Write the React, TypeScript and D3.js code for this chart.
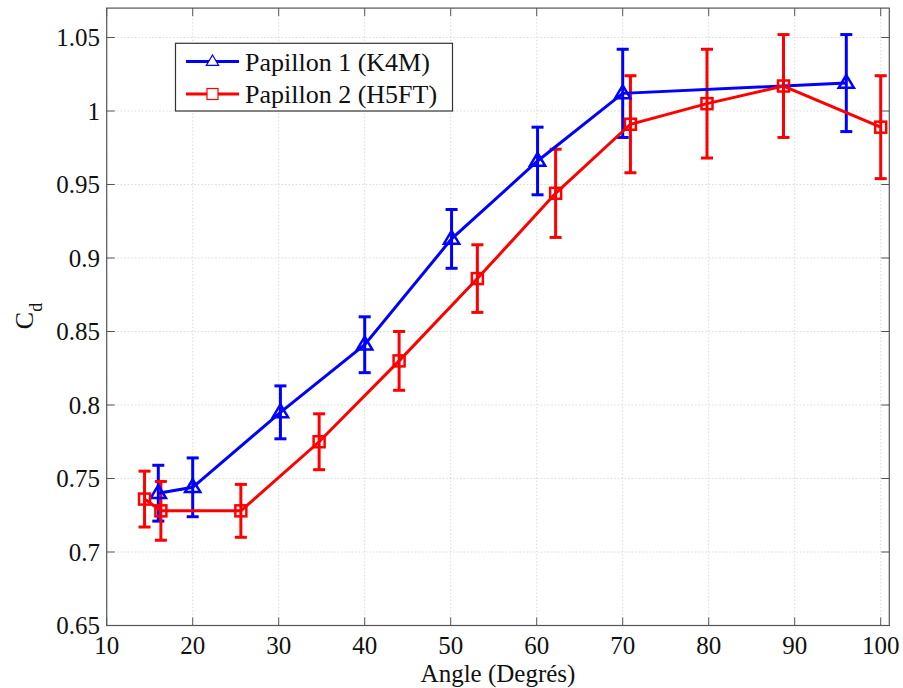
import React from "react";
import * as d3 from "d3";

const blueAngles = [16, 20, 30.2, 40, 50.1, 60.1, 70, 96];
const blueCd = [0.740, 0.744, 0.795, 0.841, 0.913, 0.966, 1.012, 1.019];
const blueErr = [0.019, 0.020, 0.018, 0.019, 0.020, 0.023, 0.030, 0.033];

const redAngles = [14.4, 16.3, 25.6, 34.7, 44, 53.1, 62.2, 70.9, 79.8, 88.7, 100];
const redCd = [0.736, 0.728, 0.728, 0.775, 0.830, 0.886, 0.944, 0.991, 1.005, 1.017, 0.989];
const redErr = [0.019, 0.020, 0.018, 0.019, 0.020, 0.023, 0.030, 0.033, 0.037, 0.035, 0.035];

const xTicks = [10, 20, 30, 40, 50, 60, 70, 80, 90, 100];
const yTicks = [0.65, 0.7, 0.75, 0.8, 0.85, 0.9, 0.95, 1, 1.05];
const seriesNames = ["Papillon 1 (K4M)", "Papillon 2 (H5FT)"];

const W = 903, H = 688;
const L = 106.7, R = 889.3, T = 8.1, B = 625.5;
const FONT = "'Liberation Serif', 'Times New Roman', serif";
const BLUE = "#0000ff";
const RED = "#ff0000";
const AX = "#555";

export default function App() {
  const x = d3.scaleLinear().domain([10, 101]).range([L, R]);
  const y = d3.scaleLinear().domain([0.65, 1.07]).range([B, T]);
  const line = d3.line<[number, number]>().x(d => x(d[0])).y(d => y(d[1]));

  const blue = blueAngles.map((a, i) => ({ a, v: blueCd[i], e: blueErr[i] }));
  const red = redAngles.map((a, i) => ({ a, v: redCd[i], e: redErr[i] }));

  const errBars = (data: { a: number; v: number; e: number }[], color: string) =>
    data.map((d, i) => {
      const cx = x(d.a), y1 = y(d.v + d.e), y2 = y(d.v - d.e), w = 6;
      return (
        <g key={i} stroke={color} strokeWidth={3} fill="none">
          <line x1={cx} x2={cx} y1={y1} y2={y2} />
          <line x1={cx - w} x2={cx + w} y1={y1} y2={y1} />
          <line x1={cx - w} x2={cx + w} y1={y2} y2={y2} />
        </g>
      );
    });

  const tri = (cx: number, cy: number, s: number) =>
    `M${cx},${cy - s}L${cx + s * 0.95},${cy + s * 0.6}L${cx - s * 0.95},${cy + s * 0.6}Z`;

  return (
    <svg width={W} height={H} style={{ position: "absolute", left: 0, top: 0, background: "#fff" }} fontFamily={FONT}>
      <rect x={0} y={0} width={W} height={H} fill="#fff" />
      {/* grid */}
      <g stroke="#d0d0d0" strokeWidth={0.8} strokeDasharray="1.5,2">
        {xTicks.map(t => <line key={"gx" + t} x1={x(t)} x2={x(t)} y1={T} y2={B} />)}
        {yTicks.map(t => <line key={"gy" + t} x1={L} x2={R} y1={y(t)} y2={y(t)} />)}
      </g>
      {/* ticks */}
      <g stroke={AX} strokeWidth={1}>
        {xTicks.map(t => (
          <g key={"tx" + t}>
            <line x1={x(t)} x2={x(t)} y1={B} y2={B - 8} />
            <line x1={x(t)} x2={x(t)} y1={T} y2={T + 8} />
          </g>
        ))}
        {yTicks.map(t => (
          <g key={"ty" + t}>
            <line x1={L} x2={L + 8} y1={y(t)} y2={y(t)} />
            <line x1={R} x2={R - 8} y1={y(t)} y2={y(t)} />
          </g>
        ))}
      </g>
      <rect x={L} y={T} width={R - L} height={B - T} fill="none" stroke={AX} strokeWidth={1.2} />
      {/* tick labels */}
      <g fontSize={25} fill="#111">
        {xTicks.map(t => (
          <text key={"lx" + t} x={x(t)} y={654} textAnchor="middle">{t}</text>
        ))}
        {yTicks.map(t => (
          <text key={"ly" + t} x={100} y={y(t) + 8.5} textAnchor="end">{d3.format("~g")(t)}</text>
        ))}
      </g>
      <text x={(L + R) / 2 + 0} y={682} fontSize={25} textAnchor="middle" fill="#111">Angle (Degrés)</text>
      <text transform={`translate(33,316) rotate(-90)`} fontSize={26} textAnchor="middle" fill="#111">
        C<tspan fontSize={18} dy={9}>d</tspan>
      </text>
      {/* series */}
      {errBars(blue, BLUE)}
      {errBars(red, RED)}
      <path d={line(blue.map(d => [d.a, d.v]) as [number, number][]) || ""} fill="none" stroke={BLUE} strokeWidth={3} />
      <path d={line(red.map(d => [d.a, d.v]) as [number, number][]) || ""} fill="none" stroke={RED} strokeWidth={3} />
      {blue.map((d, i) => (
        <path key={"mb" + i} d={tri(x(d.a), y(d.v), 8)} fill="none" stroke={BLUE} strokeWidth={2.5} />
      ))}
      {red.map((d, i) => (
        <rect key={"mr" + i} x={x(d.a) - 5.5} y={y(d.v) - 5.5} width={11} height={11} fill="none" stroke={RED} strokeWidth={2.5} />
      ))}
      {/* legend */}
      <g>
        <rect x={175.5} y={43.3} width={277} height={67.7} fill="#fff" stroke="#333" strokeWidth={1.2} />
        <line x1={186} x2={239} y1={61.5} y2={61.5} stroke={BLUE} strokeWidth={3} />
        <path d={tri(212.5, 61.5, 6.5)} fill="#fff" stroke={BLUE} strokeWidth={1.2} />
        <text x={245} y={70.5} fontSize={26} fill="#111">{seriesNames[0]}</text>
        <line x1={186} x2={239} y1={94} y2={94} stroke={RED} strokeWidth={3} />
        <rect x={207} y={88.5} width={11} height={11} fill="#fff" stroke={RED} strokeWidth={1.2} />
        <text x={245} y={103} fontSize={26} fill="#111">{seriesNames[1]}</text>
      </g>
    </svg>
  );
}
